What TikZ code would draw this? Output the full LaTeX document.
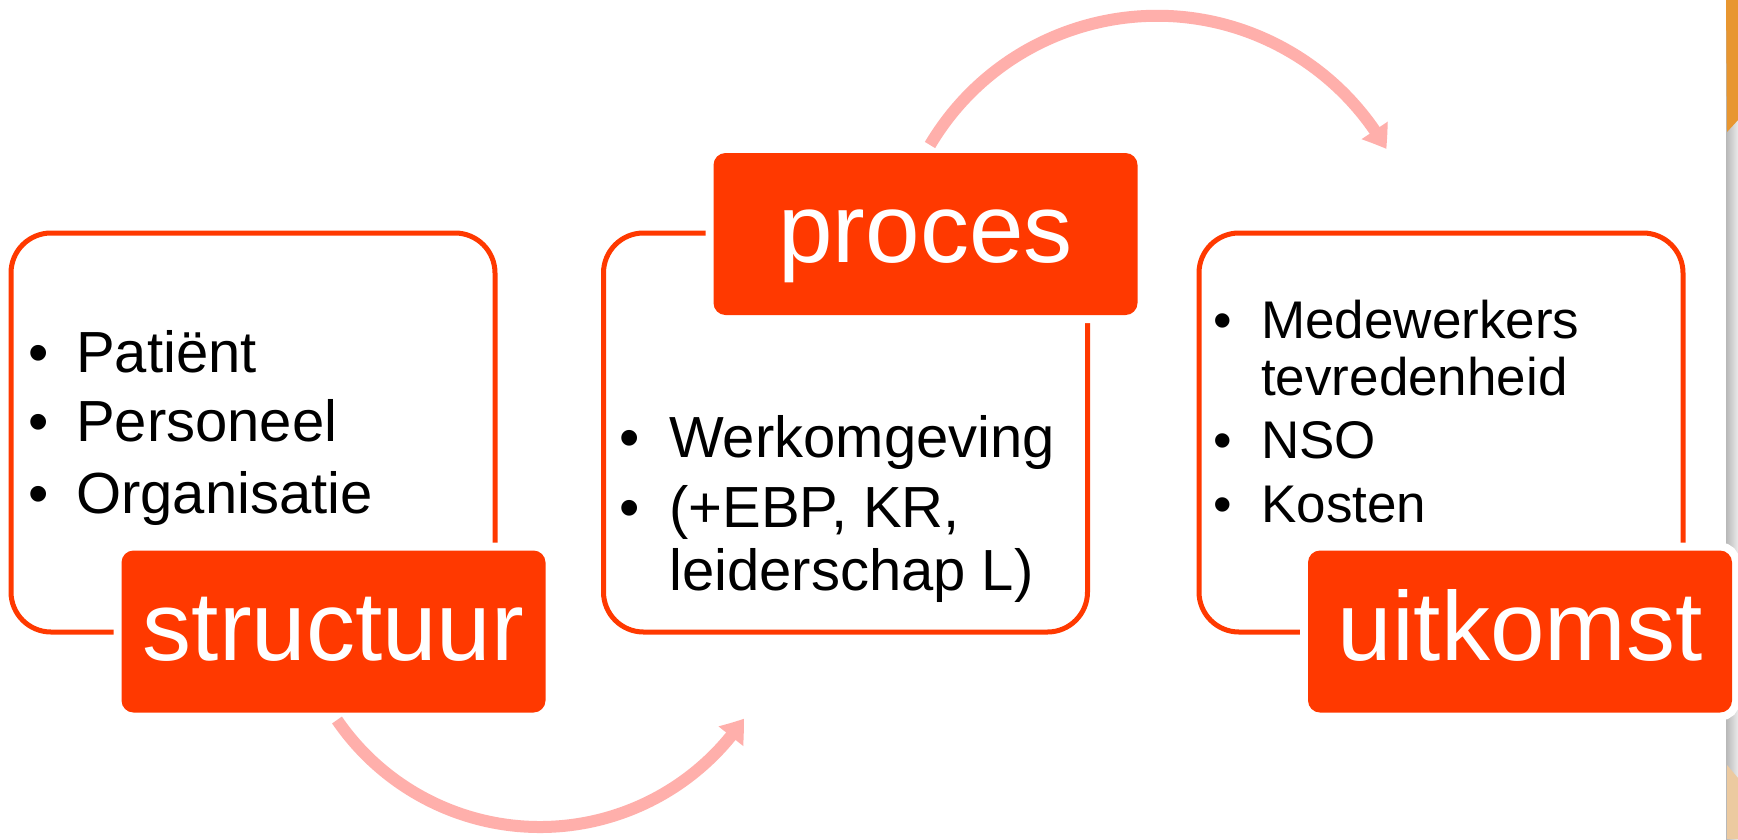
\documentclass[tikz,border=0pt]{standalone}
\usepackage{fontspec}
\setmainfont{Liberation Sans}
\usetikzlibrary{arrows.meta,bending}
\definecolor{orng}{RGB}{255,57,0}
\definecolor{pinkarr}{RGB}{255,175,171}
\definecolor{edgeorange}{RGB}{232,150,48}
\definecolor{edgetan}{RGB}{236,202,160}
\begin{document}
\begin{tikzpicture}[x=1pt,y=-1pt,
  outlinebox/.style={draw=orng, line width=5pt, rounded corners=40pt, minimum width=484pt, minimum height=399pt, inner sep=0pt},
  labelbox/.style={fill=orng, rounded corners=12pt, text=white, inner sep=0pt, minimum width=424pt, minimum height=162pt, text height=60pt, text depth=3pt, font=\fontsize{98}{110}\selectfont, preaction={draw=white, line width=16pt}},
  txt/.style={font=\fontsize{58}{70}\selectfont, inner sep=0pt, anchor=base west},
  bul/.style={font=\fontsize{58}{70}\selectfont, inner sep=0pt, anchor=base},
  txtsm/.style={font=\fontsize{53}{64}\selectfont, inner sep=0pt, anchor=base west},
  bulsm/.style={font=\fontsize{53}{64}\selectfont, inner sep=0pt, anchor=base},
  arcarrow/.style={draw=pinkarr, line width=12pt, -{Triangle[length=22pt,width=30pt,bend]}}
]
\useasboundingbox (0,0) rectangle (1738,839);
\fill[white] (0,0) rectangle (1738,839);
% right edge strip
\shade[left color=black!28, right color=black!8] (1726,0) rectangle (1738,839);
\fill[edgeorange] (1726,0) -- (1738,0) -- (1738,120) -- (1727,132) -- cycle;
\fill[edgetan] (1727,765) -- (1738,778) -- (1738,839) -- (1727,839) -- cycle;

% outline boxes
\node[outlinebox] (obox1) at (253,432.5) {};
\node[outlinebox] (obox2) at (845.5,432.5) {};
\node[outlinebox] (obox3) at (1441,432.5) {};

% left texts
\node[bul] (lb1) at (39,372) {•};
\node[txt] (lt1) at (76,372) {Patiënt};
\node[bul] (lb2) at (39,441) {•};
\node[txt] (lt2) at (76,441) {Personeel};
\node[bul] (lb3) at (39,513) {•};
\node[txt] (lt3) at (76,513) {Organisatie};

% middle texts
\node[bul] (mb1) at (630,457) {•};
\node[txt] (mt1) at (669,457) {Werkomgeving};
\node[bul] (mb2) at (630,527) {•};
\node[txt] (mt2) at (669,527) {(+EBP, KR,};
\node[txt] (mt3) at (669,590) {leiderschap L)};

% right texts
\node[bulsm] (rb1) at (1223,338) {•};
\node[txtsm] (rt1) at (1261,338) {Medewerkers};
\node[txtsm] (rt2) at (1261,395) {tevredenheid};
\node[bulsm] (rb2) at (1223,458) {•};
\node[txtsm] (rt3) at (1261,458) {NSO};
\node[bulsm] (rb3) at (1223,522) {•};
\node[txtsm] (rt4) at (1261,522) {Kosten};

% label boxes
\node[labelbox] (structuur) at (333.5,631.5) {structuur};
\node[labelbox] (proces) at (925.5,234) {proces};
\node[labelbox] (uitkomst) at (1520,631.5) {uitkomst};

% arrows
\coordinate (a1) at (337,720);
\coordinate (a2) at (930,145);
\draw[arcarrow] (a1) arc[start angle=145.6, end angle=34, radius=246];
\draw[arcarrow] (a2) arc[start angle=210.7, end angle=330.3, radius=264];
\end{tikzpicture}
\end{document}
